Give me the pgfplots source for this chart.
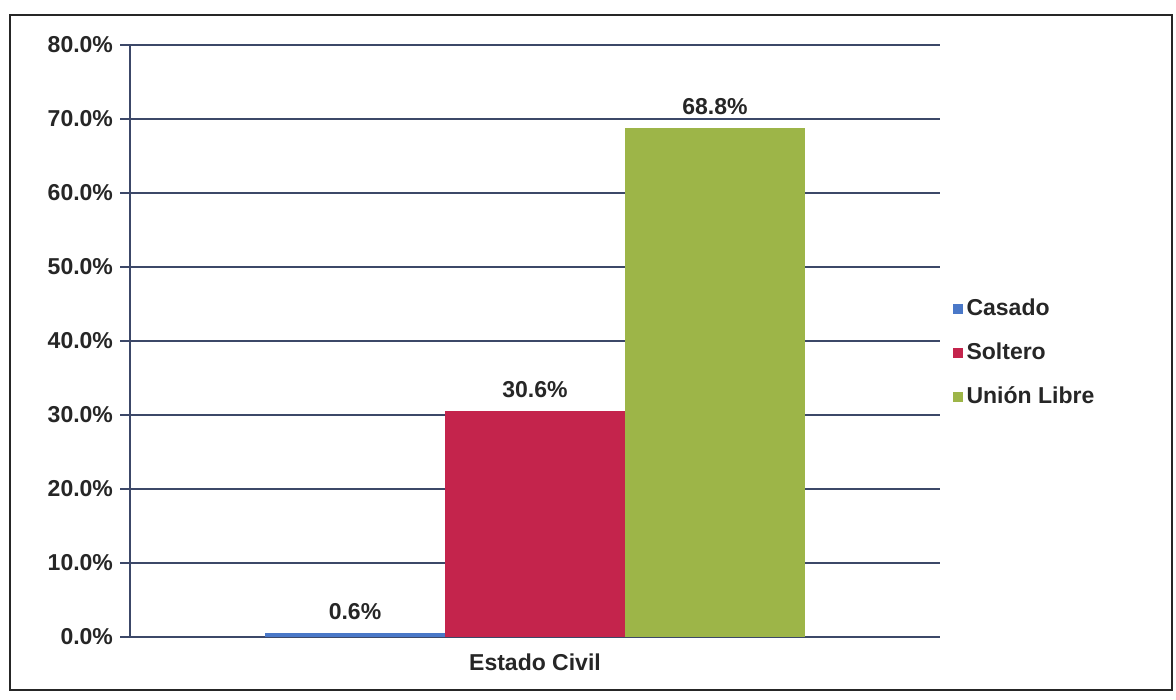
\documentclass[border=0pt]{standalone}
\usepackage{pgfplots}
\pgfplotsset{compat=1.18}
\usepackage{fontspec}
\setmainfont{Liberation Sans}
\definecolor{casado}{HTML}{4A78C8}
\definecolor{soltero}{HTML}{C4244C}
\definecolor{union}{HTML}{9DB548}
\definecolor{gridc}{HTML}{3C4868}
\begin{document}
\begin{tikzpicture}[x=1pt,y=1pt]
\path[use as bounding box] (-65,-31.5) rectangle (523,318.5);
\draw[line width=0.9pt, black!85] (-60,-26.5) rectangle (521,311);
\begin{axis}[
  at={(0,0)}, anchor=south west,
  scale only axis,
  width=405pt, height=296pt,
  xmin=-2.25, xmax=2.25,
  ymin=0, ymax=80,
  ytick={0,10,...,80},
  yticklabel={\pgfmathprintnumber[fixed,fixed zerofill,precision=1]{\tick}\%},
  xtick={0}, xticklabels={Estado Civil},
  axis x line*=bottom, axis y line*=left,
  axis line style={gridc, line width=0.6pt},
  ymajorgrids, grid style={gridc, line width=0.6pt},
  major tick length=5pt,
  tick align=outside,
  tick style={gridc, line width=0.6pt},
  xtick style={draw=none},
  ticklabel style={font=\fontsize{11.5}{13}\selectfont\bfseries, text=black!85},
  /pgf/number format/assume math mode=true,
  ybar, bar width=90pt, bar shift=0pt,
  nodes near coords={\pgfmathprintnumber[fixed,fixed zerofill,precision=1]{\pgfplotspointmeta}\%},
  nodes near coords style={font=\fontsize{11.5}{13}\selectfont\bfseries, text=black!85, anchor=south, yshift=3pt},
  legend style={at={(1.015,0.48)}, anchor=west, draw=none, fill=none,
    font=\fontsize{11.5}{13}\selectfont\bfseries, text=black!85,
    row sep=8pt, inner sep=0pt},
  legend image code/.code={\fill[#1] (0pt,-2.5pt) rectangle (5pt,2.5pt);},
  legend cell align=left,
]
\addplot[fill=casado, draw=none] coordinates {(-1,0.6)};
\addlegendentry{Casado}
\addplot[fill=soltero, draw=none] coordinates {(0,30.6)};
\addlegendentry{Soltero}
\addplot[fill=union, draw=none] coordinates {(1,68.8)};
\addlegendentry{Unión Libre}
\end{axis}
\end{tikzpicture}
\end{document}
